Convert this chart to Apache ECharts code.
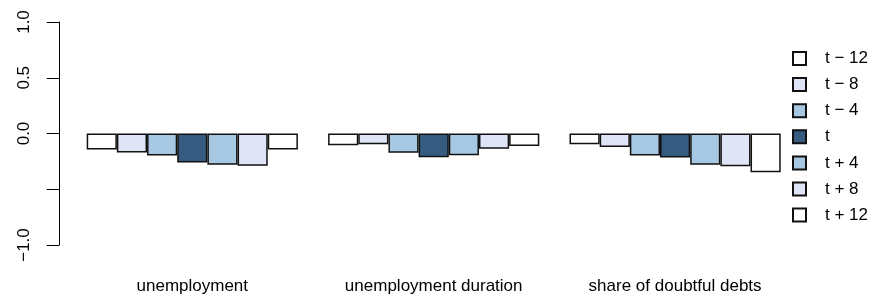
<!DOCTYPE html>
<html>
<head>
<meta charset="utf-8">
<script src="https://cdn.jsdelivr.net/npm/echarts@6/dist/echarts.min.js"></script>
<style>
  html, body { margin: 0; padding: 0; background: #fff; }
  #graph { width: 878px; height: 300px; }
</style>
</head>
<body>
<div id="graph"></div>
<script>
var categories = ['unemployment', 'unemployment duration', 'share of doubtful debts'];
var lagNames = ['t \u2212 12', 't \u2212 8', 't \u2212 4', 't', 't + 4', 't + 8', 't + 12'];
var lagColors = ['#ffffff', '#dfe5f7', '#a7c8e2', '#355b81', '#a7c8e2', '#dfe5f7', '#ffffff'];

// one array per lag, values for the three variables
var tMinus12 = [-0.143, -0.105, -0.096];
var tMinus8  = [-0.170, -0.096, -0.120];
var tMinus4  = [-0.197, -0.173, -0.197];
var t0       = [-0.260, -0.213, -0.215];
var tPlus4   = [-0.281, -0.195, -0.281];
var tPlus8   = [-0.290, -0.137, -0.293];
var tPlus12  = [-0.143, -0.111, -0.347];
var lagValues = [tMinus12, tMinus8, tMinus4, t0, tPlus4, tPlus8, tPlus12];

var yTicks = [-1, -0.5, 0, 0.5, 1];
var yHiddenLabels = [-0.5]; // R drops this one because it would overlap

var dom = document.getElementById("graph");
var myChart = echarts.init(dom);
var font = 'Liberation Sans, Arial, sans-serif';

var series = lagNames.map(function (name, i) {
    return {
        name: name,
        type: 'bar',
        data: lagValues[i],
        barGap: '0%',
        barCategoryGap: '12.5%',
        itemStyle: {
            color: lagColors[i],
            borderColor: '#111',
            borderWidth: 1.5
        },
        emphasis: { disabled: true }
    };
});

var option = {
    animation: false,
    backgroundColor: '#ffffff',
    grid: {
        left: 71.6,
        right: 82.2,
        top: 22,
        bottom: 55
    },
    legend: {
        orient: 'vertical',
        left: 792,
        top: 50,
        padding: 0,
        icon: 'rect',
        itemWidth: 13,
        itemHeight: 13,
        itemGap: 9.1,
        selectedMode: false,
        data: lagNames,
        textStyle: {
            fontFamily: font,
            fontSize: 17,
            color: '#000',
            padding: [0, 0, 0, 14]
        }
    },
    xAxis: {
        type: 'category',
        data: categories,
        axisLine: { show: false },
        axisTick: { show: false },
        axisLabel: {
            margin: 33,
            fontFamily: font,
            fontSize: 17,
            color: '#000',
            interval: 0
        }
    },
    yAxis: {
        type: 'value',
        min: yTicks[0],
        max: yTicks[yTicks.length - 1],
        interval: 0.5,
        offset: 12.3,
        axisLine: {
            show: true,
            lineStyle: { color: '#000', width: 1 }
        },
        axisTick: {
            show: true,
            length: 12.6,
            lineStyle: { color: '#000', width: 1 }
        },
        splitLine: { show: false },
        axisLabel: {
            rotate: 90,
            margin: 26,
            fontFamily: font,
            fontSize: 17,
            color: '#000',
            formatter: function (v) {
                if (yHiddenLabels.indexOf(v) >= 0) return '';
                return (v < 0 ? '\u2212' : '') + Math.abs(v).toFixed(1);
            }
        }
    },
    series: series
};

if (option && typeof option === "object") {
    myChart.setOption(option, true);
}
</script>
</body>
</html>
